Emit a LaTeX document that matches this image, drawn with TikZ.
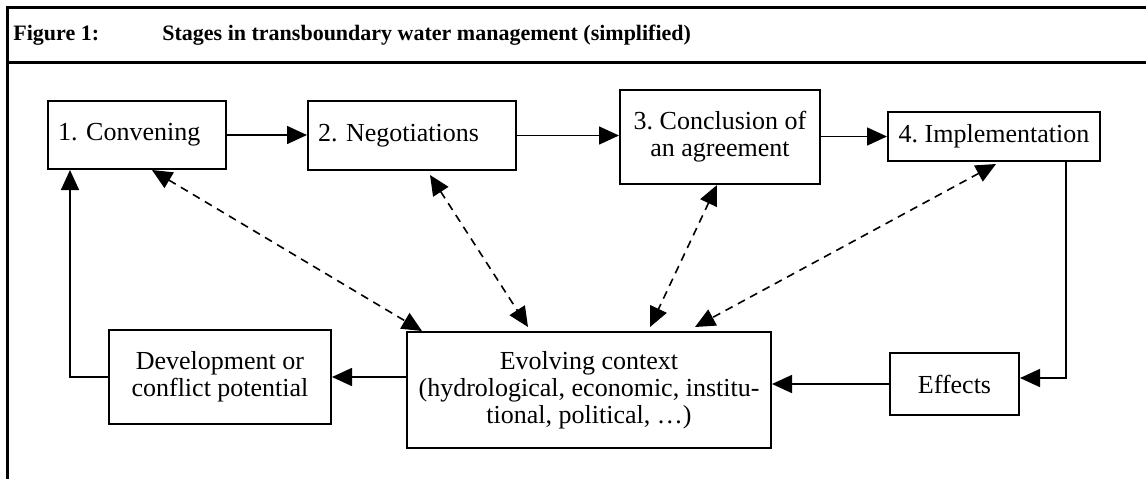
\documentclass[tikz,border=0pt]{standalone}
\usepackage{fontspec}
\setmainfont{Liberation Serif}
\usepackage{tikz}
\usetikzlibrary{
    arrows.meta,
    positioning,
    calc
}
\frenchspacing
\tikzset{
    wbox/.style={
        rectangle, draw=black, line width=1pt, fill=white, text=black,
        align=center, font=\fontsize{13}{13.5}\selectfont, inner sep=5pt
    },
    wlbox/.style={wbox, align=left},
    wtitle/.style={anchor=west, inner sep=0pt, font=\fontsize{11}{13}\selectfont\bfseries},
    warr/.style={-{Triangle[length=10pt, width=9pt]}, line width=0.8pt, black},
    wdash/.style={{Triangle[length=10pt, width=9pt]}-{Triangle[length=10pt, width=9pt]},
        line width=0.8pt, dash pattern=on 4pt off 3pt, black},
    wframe/.style={line width=1.5pt, black},
}

\begin{document}
\begin{tikzpicture}[x=0.5pt, y=-0.5pt]

    \useasboundingbox (0,0) rectangle (1146,479);

    % ── frame and heading ────────────────────────────────
    \draw [wframe] (1146,7) -- (7,7) -- (7,479);
    \draw [wframe] (7,62) -- (1146,62);
    \node [wtitle] (figlbl) at (13,35) {Figure 1:};
    \node [wtitle] (figttl) at (162,35) {Stages in transboundary water management (simplified)};

    % ── the four stages ──────────────────────────────────
    \node [wlbox, text width=79pt, minimum height=34pt]
        (conv) at (137,135) {1. Convening};
    \node [wlbox, text width=94pt, minimum height=34.5pt]
        (nego) at (412,135.5) {2. Negotiations};
    \node [wbox, minimum width=100pt, minimum height=47pt]
        (concl) at (720,137) {3. Conclusion of\\ an agreement};
    \node [wbox, minimum width=106pt, minimum height=24.5pt]
        (impl) at (994,136.5) {4. Implementation};

    % ── lower row ────────────────────────────────────────
    \node [wbox, minimum width=111pt, minimum height=47pt]
        (devel) at (220,377) {Development or\\ conflict potential};
    \node [wbox, minimum width=182pt, minimum height=58pt]
        (ctx) at (589,390) {Evolving context\\ (hydrological, economic, institu-\\ tional, political, \dots)};
    \node [wbox, minimum width=64.5pt, minimum height=31pt]
        (eff) at (954.5,384) {Effects};

    % ── arrows ───────────────────────────────────────────
    \draw [warr] (conv.east) -- (nego.west |- conv.east);
    \draw [warr] (nego.east) -- (concl.west |- nego.east);
    \draw [warr] (concl.east |- impl.west) -- (impl.west);
    \draw [warr] ([xshift=-17.5pt]impl.south east) |- ([yshift=3pt]eff.east);
    \draw [warr] (eff.west) -- (eff.west -| ctx.east);
    \draw [warr] (devel.east -| ctx.west) -- (devel.east);
    \draw [warr] (devel.west) -| ([xshift=11.5pt]conv.south west);

    % ── dashed links to the context ──────────────────────
    \draw [wdash] ([xshift=7.5pt]conv.south) -- ([xshift=8pt]ctx.north west);
    \draw [wdash] ([xshift=9pt,yshift=-2pt]nego.south) -- ([xshift=-30.5pt,yshift=2pt]ctx.north);
    \draw [wdash] ([xshift=-1.5pt]concl.south) -- ([xshift=30.5pt,yshift=2pt]ctx.north);
    \draw [wdash] ([xshift=1pt,yshift=-1pt]impl.south) -- ([xshift=53pt,yshift=2pt]ctx.north);

\end{tikzpicture}
\end{document}
